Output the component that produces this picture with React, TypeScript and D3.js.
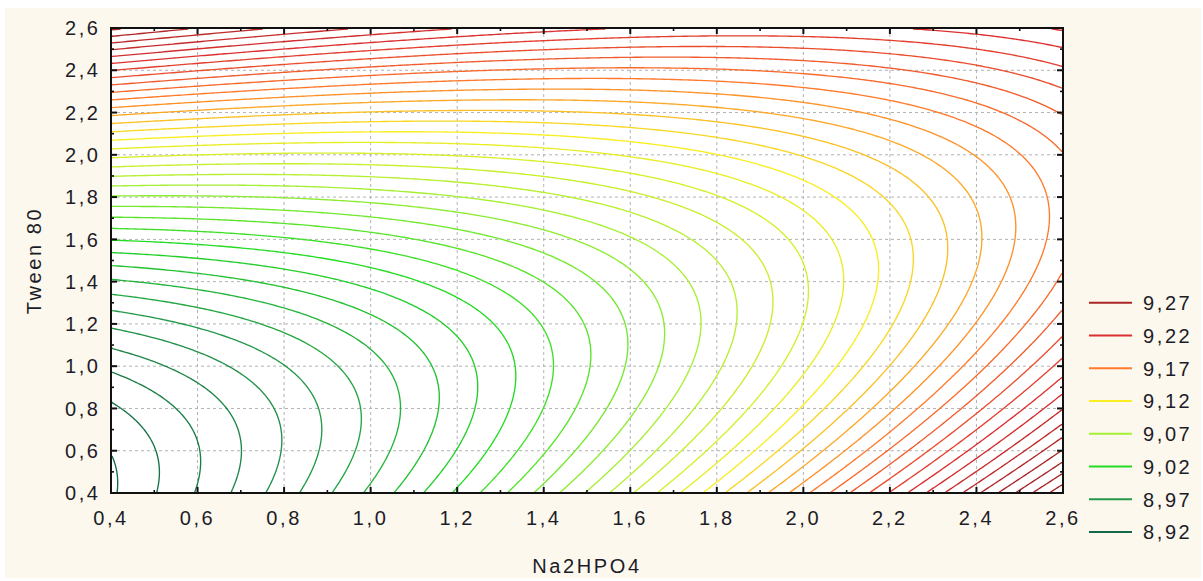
import React, { useMemo } from "react";
import * as d3 from "d3";

// ---- Axis ticks ----
const MAJOR_TICKS = [0.4, 0.6, 0.8, 1.0, 1.2, 1.4, 1.6, 1.8, 2.0, 2.2, 2.4, 2.6];
const MINOR_TICKS = [0.5, 0.7, 0.9, 1.1, 1.3, 1.5, 1.7, 1.9, 2.1, 2.3, 2.5];
const X_TICK_LABELS = ["0,4", "0,6", "0,8", "1,0", "1,2", "1,4", "1,6", "1,8", "2,0", "2,2", "2,4", "2,6"];
const Y_TICK_LABELS = ["0,4", "0,6", "0,8", "1,0", "1,2", "1,4", "1,6", "1,8", "2,0", "2,2", "2,4", "2,6"];
const GRID_VALUES = [0.6, 0.8, 1.0, 1.2, 1.4, 1.6, 1.8, 2.0, 2.2, 2.4];

// ---- Legend ----
const LEGEND_LEVELS = [9.27, 9.22, 9.17, 9.12, 9.07, 9.02, 8.97, 8.92];
const LEGEND_LABELS = ["9,27", "9,22", "9,17", "9,12", "9,07", "9,02", "8,97", "8,92"];
const LEGEND_COLORS = ["#a82626", "#dc3030", "#ff7a2c", "#f8ee22", "#a6f034", "#24dc24", "#24994a", "#146a46"];

// ---- Contour levels drawn in the plot ----
const CONTOUR_LEVELS = [
  8.92, 8.93, 8.94, 8.95, 8.96, 8.97, 8.98, 8.99, 9.0, 9.01,
  9.02, 9.03, 9.04, 9.05, 9.06, 9.07, 9.08, 9.09, 9.1, 9.11,
  9.12, 9.13, 9.14, 9.15, 9.16, 9.17, 9.18, 9.19, 9.2, 9.21,
  9.22, 9.23, 9.24, 9.25, 9.26, 9.27, 9.28, 9.29, 9.3, 9.31,
];

// ---- Fitted response surface (coefficients) ----
const SURFACE_BASE = 8.9184;
const SURFACE_Y_CURVATURE = 0.076;
const SURFACE_VALLEY = [0.44, 0.52, 0.03]; // y of the valley floor vs (x - 0.4)
const SURFACE_X_TREND = [0.103, 0.006]; // linear & quadratic rise along x
const X_DOMAIN = [0.4, 2.6];
const Y_DOMAIN = [0.4, 2.6];

function surface(xv: number, yv: number): number {
  const u = xv - X_DOMAIN[0];
  const valley = SURFACE_VALLEY[0] + SURFACE_VALLEY[1] * u + SURFACE_VALLEY[2] * u * u;
  const d = yv - valley;
  return SURFACE_BASE + SURFACE_Y_CURVATURE * d * d + SURFACE_X_TREND[0] * u + SURFACE_X_TREND[1] * u * u;
}

const W = 1203;
const H = 581;
const PLOT = { left: 111, top: 28, right: 1063, bottom: 493 };
const FONT = "'Liberation Sans', Arial, Helvetica, sans-serif";
const TEXT_COLOR = "#1c1c28";

export default function App() {
  const x = d3.scaleLinear().domain(X_DOMAIN).range([PLOT.left, PLOT.right]);
  const y = d3.scaleLinear().domain(Y_DOMAIN).range([PLOT.bottom, PLOT.top]);
  const color = d3
    .scaleLinear<string>()
    .domain([...LEGEND_LEVELS].reverse())
    .range([...LEGEND_COLORS].reverse())
    .clamp(true);
  const legendY = d3.scaleLinear().domain([0, LEGEND_LEVELS.length - 1]).range([302.7, 532]);

  const contourPaths = useMemo(() => {
    const NX = 330;
    const NY = 240;
    const gx = (X: number) => X_DOMAIN[0] + (X * (X_DOMAIN[1] - X_DOMAIN[0])) / NX;
    const gy = (Y: number) => Y_DOMAIN[0] + (Y * (Y_DOMAIN[1] - Y_DOMAIN[0])) / NY;
    const values: number[] = new Array(NX * NY);
    for (let j = 0; j < NY; j++) {
      const yv = gy(j + 0.5);
      for (let i = 0; i < NX; i++) {
        values[j * NX + i] = surface(gx(i + 0.5), yv);
      }
    }
    const gen = d3.contours().size([NX, NY]).thresholds(CONTOUR_LEVELS);
    const cs = gen(values);
    const eps = 1e-6;
    const onEdge = (p: number[], q: number[]) =>
      (Math.abs(p[0]) < eps && Math.abs(q[0]) < eps) ||
      (Math.abs(p[0] - NX) < eps && Math.abs(q[0] - NX) < eps) ||
      (Math.abs(p[1]) < eps && Math.abs(q[1]) < eps) ||
      (Math.abs(p[1] - NY) < eps && Math.abs(q[1] - NY) < eps);
    return cs.map((c) => {
      let d = "";
      for (const poly of c.coordinates) {
        for (const ring of poly) {
          let penDown = false;
          for (let k = 1; k < ring.length; k++) {
            const p = ring[k - 1];
            const q = ring[k];
            if (onEdge(p, q)) {
              penDown = false;
              continue;
            }
            if (!penDown) {
              d += `M${x(gx(p[0])).toFixed(2)},${y(gy(p[1])).toFixed(2)}`;
              penDown = true;
            }
            d += `L${x(gx(q[0])).toFixed(2)},${y(gy(q[1])).toFixed(2)}`;
          }
        }
      }
      return { value: c.value, d };
    });
  }, []);

  const textProps = {
    fontFamily: FONT,
    fontSize: 20,
    letterSpacing: 2.6,
    fill: TEXT_COLOR,
  };

  return (
    <svg
      width={W}
      height={H}
      style={{ position: "absolute", left: 0, top: 0, display: "block" }}
    >
      <rect x={0} y={0} width={W} height={H} fill="#ffffff" />
      <rect x={5} y={8} width={1196} height={570} fill="#fdf8ed" />
      <defs>
        <clipPath id="plotClip">
          <rect x={PLOT.left} y={PLOT.top} width={PLOT.right - PLOT.left} height={PLOT.bottom - PLOT.top} />
        </clipPath>
      </defs>
      <rect
        x={PLOT.left}
        y={PLOT.top}
        width={PLOT.right - PLOT.left}
        height={PLOT.bottom - PLOT.top}
        fill="#ffffff"
      />
      {/* grid */}
      <g stroke="#b2b2b2" strokeWidth={1} strokeDasharray="3,3">
        {GRID_VALUES.map((v) => (
          <line key={"gx" + v} x1={x(v)} x2={x(v)} y1={PLOT.top} y2={PLOT.bottom} />
        ))}
        {GRID_VALUES.map((v) => (
          <line key={"gy" + v} x1={PLOT.left} x2={PLOT.right} y1={y(v)} y2={y(v)} />
        ))}
      </g>
      {/* contours */}
      <g clipPath="url(#plotClip)" fill="none" strokeWidth={1.35} strokeLinejoin="round">
        {contourPaths.map((c) => (
          <path key={c.value} d={c.d} stroke={color(c.value)} />
        ))}
      </g>
      {/* frame */}
      <rect
        x={PLOT.left}
        y={PLOT.top}
        width={PLOT.right - PLOT.left}
        height={PLOT.bottom - PLOT.top}
        fill="none"
        stroke="#111"
        strokeWidth={2}
      />
      {/* ticks (inward, all sides) */}
      <g stroke="#111">
        {MAJOR_TICKS.map((v) => (
          <g key={"mt" + v} strokeWidth={2}>
            <line x1={x(v)} x2={x(v)} y1={PLOT.bottom} y2={PLOT.bottom - 6} />
            <line x1={x(v)} x2={x(v)} y1={PLOT.top} y2={PLOT.top + 6} />
            <line x1={PLOT.left} x2={PLOT.left + 6} y1={y(v)} y2={y(v)} />
            <line x1={PLOT.right} x2={PLOT.right - 6} y1={y(v)} y2={y(v)} />
          </g>
        ))}
        {MINOR_TICKS.map((v) => (
          <g key={"nt" + v} strokeWidth={1.6}>
            <line x1={x(v)} x2={x(v)} y1={PLOT.bottom} y2={PLOT.bottom - 3} />
            <line x1={x(v)} x2={x(v)} y1={PLOT.top} y2={PLOT.top + 3} />
            <line x1={PLOT.left} x2={PLOT.left + 3} y1={y(v)} y2={y(v)} />
            <line x1={PLOT.right} x2={PLOT.right - 3} y1={y(v)} y2={y(v)} />
          </g>
        ))}
      </g>
      {/* tick labels */}
      {MAJOR_TICKS.map((v, i) => (
        <text key={"xl" + v} x={x(v)} y={525} textAnchor="middle" {...textProps}>
          {X_TICK_LABELS[i]}
        </text>
      ))}
      {MAJOR_TICKS.map((v, i) => (
        <text key={"yl" + v} x={100.6} y={y(v) + 7.2} textAnchor="end" {...textProps}>
          {Y_TICK_LABELS[i]}
        </text>
      ))}
      {/* axis titles */}
      <text x={(PLOT.left + PLOT.right) / 2} y={573} textAnchor="middle" {...textProps}>
        Na2HPO4
      </text>
      <text
        transform={`translate(41,${(PLOT.top + PLOT.bottom) / 2}) rotate(-90)`}
        textAnchor="middle"
        {...textProps}
      >
        Tween 80
      </text>
      {/* legend */}
      {LEGEND_LEVELS.map((lv, i) => (
        <g key={"lg" + lv}>
          <line
            x1={1089}
            x2={1132}
            y1={legendY(i)}
            y2={legendY(i)}
            stroke={LEGEND_COLORS[i]}
            strokeWidth={2}
          />
          <text x={1143} y={legendY(i) + 7.3} {...textProps}>
            {LEGEND_LABELS[i]}
          </text>
        </g>
      ))}
    </svg>
  );
}
